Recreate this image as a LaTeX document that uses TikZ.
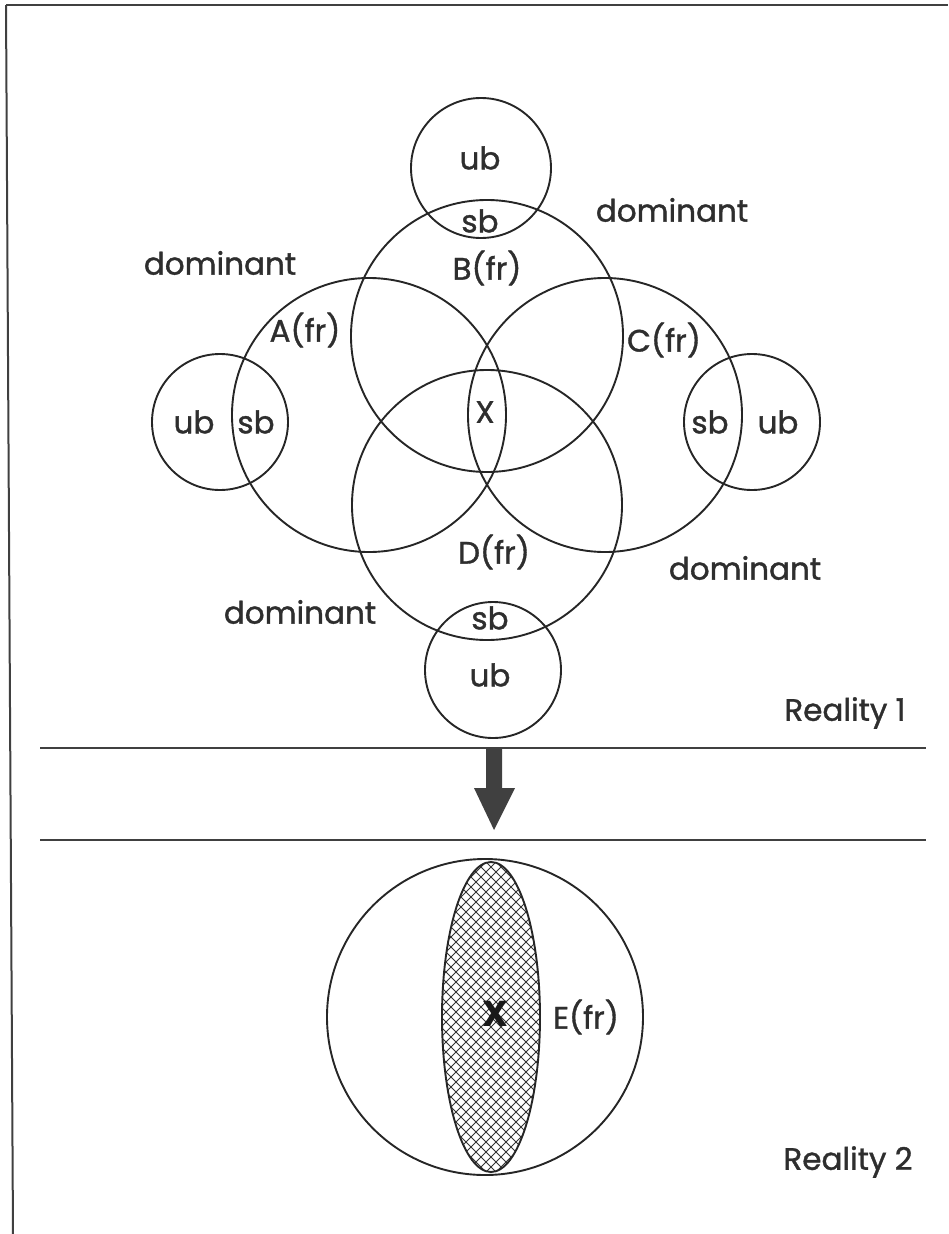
\documentclass[tikz,border=0pt]{standalone}
\usepackage{fontspec}
\setmainfont{Poppins}
\newfontfamily\lblfont[BoldFont={Poppins},BoldFeatures={FakeBold=1.2}]{Poppins}
\begin{document}
\begin{tikzpicture}[x=1pt,y=-1pt,
  ring/.style={draw=black!85,line width=1.9pt},
  lbl/.style={inner sep=0pt,font=\lblfont\bfseries\fontsize{31}{33}\selectfont,text=black!82},
  rule/.style={draw=black!75,line width=2pt}]
\useasboundingbox (0,0) rectangle (948,1234);
% frame
\draw[rule] (6,5) -- (948,5);
\draw[rule] (6,5) -- (13,1234);
% big circles
\draw[ring] (487,336) circle (136);
\draw[ring] (369,415) circle (137);
\draw[ring] (605,415) circle (137);
\draw[ring] (487,505) circle (135);
% small circles
\draw[ring] (481,168) circle (70);
\draw[ring] (220,422) circle (68);
\draw[ring] (752,422) circle (68);
\draw[ring] (493,670) circle (68);
% labels
\node[lbl] (ubT) at (480,158) {ub};
\node[lbl] (sbT) at (480,221) {sb};
\node[lbl] (B) at (487,268) {B(fr)};
\node[lbl] (domTR) at (672,210) {dominant};
\node[lbl] (domTL) at (220,263) {dominant};
\node[lbl] (A) at (305,330) {A(fr)};
\node[lbl] (C) at (664,340) {C(fr)};
\node[lbl] (X) at (485,412) {X};
\node[lbl] (ubL) at (194,422) {ub};
\node[lbl] (sbL) at (256,422) {sb};
\node[lbl] (sbR) at (710,422) {sb};
\node[lbl] (ubR) at (778,422) {ub};
\node[lbl] (D) at (494,552) {D(fr)};
\node[lbl] (domBR) at (745,568) {dominant};
\node[lbl] (domBL) at (300,612) {dominant};
\node[lbl] (sbB) at (490,618) {sb};
\node[lbl] (ubB) at (490,675) {ub};
\node[lbl] (R1) at (845,713) {Reality 1};
% separators and arrow
\draw[rule] (40,748) -- (926,748);
\draw[rule] (40,840) -- (926,840);
\fill[black!75] (486,748) -- (502,748) -- (502,788) -- (515,788) -- (494,830) -- (474,788) -- (486,788) -- cycle;
% reality 2
\draw[ring] (485,1017) circle (158);
\begin{scope}
\clip (491,1017) ellipse (49 and 155);
\foreach \k in {-400,-390,...,400}{
  \draw[black!80,line width=1pt] (491+\k-200,1017-200) -- (491+\k+200,1017+200);
  \draw[black!80,line width=1pt] (491+\k-200,1017+200) -- (491+\k+200,1017-200);
}
\end{scope}
\draw[ring] (491,1017) ellipse (49 and 155);
\node[inner sep=0pt,font=\fontsize{36}{38}\selectfont\bfseries,text=black!90] (XE) at (495,1014) {X};
\node[lbl] (E) at (586,1017) {E(fr)};
\node[lbl] (R2) at (848,1162) {Reality 2};
\end{tikzpicture}
\end{document}
